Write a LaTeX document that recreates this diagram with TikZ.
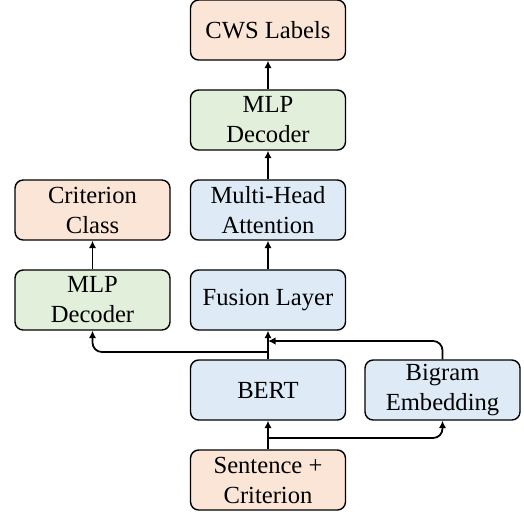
\documentclass[tikz,border=0pt]{standalone}
\usepackage{fontspec}
\setmainfont{Liberation Serif}
\usetikzlibrary{arrows.meta}
\definecolor{outorange}{HTML}{FBE5D6}
\definecolor{decgreen}{HTML}{E2EFDA}
\definecolor{encblue}{HTML}{DEEBF7}
\begin{document}
\begin{tikzpicture}
  [
  x=0.015cm, y=-0.015cm,
  font=\fontsize{10.5}{12.8}\selectfont, line width=0.75pt, draw=black,
  block/.style={rectangle, rounded corners=3.5pt, draw=black, line width=0.6pt,
    minimum width=2.325cm, minimum height=0.9cm, inner sep=0pt, align=center},
  arr/.style={-{Latex[length=3.2pt,width=3.2pt]}, line width=0.75pt, rounded corners=4pt}
  ]

\useasboundingbox (0,0) rectangle (524,513);

\node[block, fill=outorange] (cws) at (268,30) {CWS Labels};
\node[block, fill=decgreen] (mlpseg) at (268,120) {MLP\\Decoder};
\node[block, fill=encblue] (mha) at (268,210) {Multi-Head\\Attention};
\node[block, fill=encblue] (fusion) at (268,300) {Fusion Layer};
\node[block, fill=encblue] (bert) at (268,390) {BERT};
\node[block, fill=outorange] (sent) at (268,480) {Sentence +\\Criterion};

\node[block, fill=outorange] (crit) at (92.5,210) {Criterion\\Class};
\node[block, fill=decgreen] (mlpcrit) at (92.5,300) {MLP\\Decoder};

\node[block, fill=encblue] (bigram) at (442.5,390) {Bigram\\Embedding};

\coordinate (branch) at (268,352);
\coordinate (merge) at (268,341);
\coordinate (split) at (268,438);

\draw[arr] (mlpseg) -- (cws);
\draw[arr] (mha) -- (mlpseg);
\draw[arr] (fusion) -- (mha);
\draw[arr] (bert) -- (fusion);
\draw[arr] (mlpcrit) -- (crit);
\draw[arr] (branch) -| (mlpcrit.south);
\draw[arr] (bigram.north) |- (merge);
\draw[arr] (sent) -- (bert);
\draw[arr] (split) -| (bigram.south);

\end{tikzpicture}
\end{document}
